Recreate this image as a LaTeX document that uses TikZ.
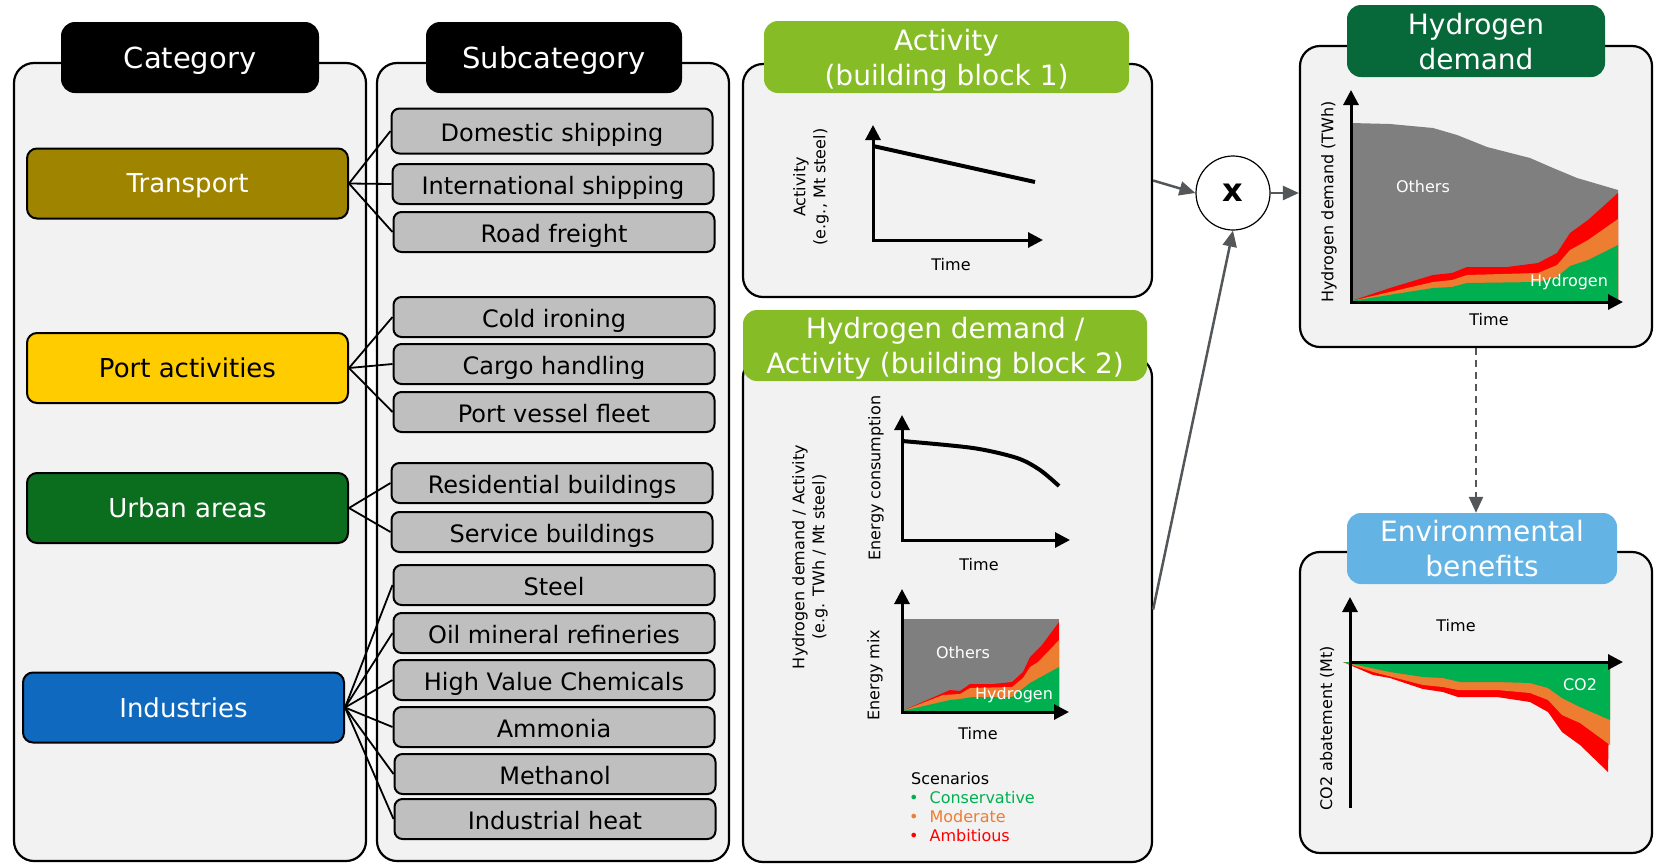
\documentclass[tikz,border=0pt]{standalone}
\usepackage{fontspec}
\setmainfont{DejaVu Sans}
\usetikzlibrary{arrows.meta}

\definecolor{panelgray}{HTML}{F2F2F2}
\definecolor{boxgray}{HTML}{BFBFBF}
\definecolor{transportcol}{HTML}{9F8400}
\definecolor{portcol}{HTML}{FFCC00}
\definecolor{urbancol}{HTML}{0B6E1E}
\definecolor{industrycol}{HTML}{0F69BE}
\definecolor{blockgreen}{HTML}{86BC25}
\definecolor{demandgreen}{HTML}{07693A}
\definecolor{envblue}{HTML}{63B4E4}
\definecolor{arrowgray}{HTML}{53575A}
\definecolor{othersgray}{HTML}{7F7F7F}
\definecolor{consgreen}{HTML}{00B050}
\definecolor{modorange}{HTML}{ED7D31}
\definecolor{ambred}{HTML}{FF0000}

\tikzset{
  panel/.style={draw, line width=2.2pt, fill=panelgray, rounded corners=20pt, inner sep=0pt},
  header/.style={rounded corners=14pt, text=white, align=center, inner sep=0pt,
    text depth=0pt, font=\fontsize{28}{35}\selectfont},
  catbox/.style={draw, line width=2pt, rounded corners=10pt, minimum width=321pt,
    minimum height=70pt, text depth=0pt, font=\fontsize{26}{30}\selectfont},
  subbox/.style={draw, fill=boxgray, line width=2pt, rounded corners=8pt, minimum width=321pt,
    minimum height=40pt, text height=20.5pt, text depth=0pt, font=\fontsize{24}{28}\selectfont},
  axis/.style={line width=3pt, -{Triangle[length=15pt,width=15pt]}},
  curve/.style={line width=4pt},
  lbl/.style={font=\fontsize{16}{20}\selectfont, align=center, inner sep=0pt},
  flow/.style={draw=arrowgray, line width=2.5pt, -{Triangle[length=16pt,width=14pt]}},
  link/.style={line width=1.8pt},
}

\begin{document}
\begin{tikzpicture}[x=1pt, y=-1pt]
  \useasboundingbox (0,0) rectangle (1662,863);

  % Category column
  \node[panel, minimum width=352pt, minimum height=798pt] (catpanel) at (190,462) {};
  \node[header, fill=black, minimum width=258pt, minimum height=71pt,
    font=\fontsize{29}{33}\selectfont] (cathead) at (190,57.5) {Category};
  \node[catbox, fill=transportcol, text=white] (transport) at (187.5,183.5) {Transport};
  \node[catbox, fill=portcol] (port) at (187.5,368) {Port activities};
  \node[catbox, fill=urbancol, text=white] (urban) at (187.5,508) {Urban areas};
  \node[catbox, fill=industrycol, text=white] (industry) at (183.5,707.5) {Industries};

  % Subcategory column
  \node[panel, minimum width=352pt, minimum height=798pt] (subpanel) at (553,462) {};
  \node[header, fill=black, minimum width=256pt, minimum height=71pt,
    font=\fontsize{29}{33}\selectfont] (subhead) at (554,57.5) {Subcategory};
  \node[subbox, minimum height=45pt] (dom) at (552,131) {Domestic shipping};
  \node[subbox] (intl) at (553,184) {International shipping};
  \node[subbox] (road) at (554,232) {Road freight};
  \node[subbox] (cold) at (554,317) {Cold ironing};
  \node[subbox] (cargo) at (554,364) {Cargo handling};
  \node[subbox] (vessel) at (554,412) {Port vessel fleet};
  \node[subbox] (resid) at (552,483) {Residential buildings};
  \node[subbox] (service) at (552,532) {Service buildings};
  \node[subbox] (steel) at (554,585) {Steel};
  \node[subbox] (oil) at (554,633) {Oil mineral refineries};
  \node[subbox] (hvc) at (554,680) {High Value Chemicals};
  \node[subbox] (ammonia) at (554,727) {Ammonia};
  \node[subbox] (methanol) at (555,774) {Methanol};
  \node[subbox] (heat) at (555,819) {Industrial heat};

  % Links
  \foreach \s in {dom,intl,road} \draw[link] (transport.east) -- (\s.west);
  \foreach \s in {cold,cargo,vessel} \draw[link] (port.east) -- (\s.west);
  \foreach \s in {resid,service} \draw[link] (urban.east) -- (\s.west);
  \foreach \s in {steel,oil,hvc,ammonia,methanol,heat} \draw[link] (industry.east) -- (\s.west);

  % Building block 1
  \node[panel, minimum width=409pt, minimum height=233pt] (actpanel) at (947.5,180.5) {};
  \node[header, fill=blockgreen, minimum width=365pt, minimum height=72pt] (acthead)
    at (946.5,57) {Activity\\(building block 1)};
  \draw[axis] (873,241.5) -- (873,125);
  \draw[axis] (873,240) -- (1043,240);
  \draw[curve] (873,146) -- (1035,182);
  \node[lbl, rotate=90] (actylab) at (811,187) {Activity\\(e.g., Mt steel)};
  \node[lbl] (acttime) at (951,265) {Time};

  % Building block 2
  \node[panel, minimum width=409pt, minimum height=505pt] (blocktwo) at (947.5,609.5) {};
  \node[header, fill=blockgreen, minimum width=404pt, minimum height=71pt] (blockhead)
    at (945,345.5) {Hydrogen demand /\\Activity (building block 2)};
  \node[lbl, rotate=90] (blockylab) at (810,557) {Hydrogen demand / Activity\\(e.g. TWh / Mt steel)};
  % energy consumption
  \draw[axis] (902,541.5) -- (902,415);
  \draw[axis] (902,540) -- (1070,540);
  \draw[curve] plot[smooth] coordinates {(902,441) (973,448) (1017,458) (1040,470) (1059,486)};
  \node[lbl, rotate=90] (ecylab) at (876,478) {Energy consumption};
  \node[lbl] (ectime) at (979,565) {Time};
  % energy mix
  \fill[othersgray] (902,619) rectangle (1059,712);
  \fill[ambred] (902,711) -- (950,690) -- (960,691) -- (970,684) -- (993,684) -- (1012,682)
    -- (1023,672) -- (1030,657) -- (1042,645) -- (1059,622) -- (1059,712) -- cycle;
  \fill[modorange] (902,711) -- (943,695) -- (960,694) -- (970,688) -- (1012,687) -- (1023,678)
    -- (1030,667) -- (1038,662) -- (1059,640) -- (1059,712) -- cycle;
  \fill[consgreen] (902,711) -- (950,700) -- (960,699) -- (973,697) -- (1012,697) -- (1030,683)
    -- (1059,667) -- (1059,712) -- cycle;
  \draw[axis] (902,713.5) -- (902,589);
  \draw[axis] (902,712) -- (1069,712);
  \node[lbl, text=white] (emothers) at (963,653) {Others};
  \node[lbl, text=white] (emhydrogen) at (1014,695) {Hydrogen};
  \node[lbl, rotate=90] (emylab) at (875,675) {Energy mix};
  \node[lbl] (emtime) at (978,734) {Time};
  % scenarios
  \node[lbl, anchor=west] (scen) at (911,779) {Scenarios};
  \node[lbl, anchor=west, text=consgreen] (scencons) at (909,798) {\textbullet\hspace{11pt}Conservative};
  \node[lbl, anchor=west, text=modorange] (scenmod) at (909,817) {\textbullet\hspace{11pt}Moderate};
  \node[lbl, anchor=west, text=ambred] (scenamb) at (909,836) {\textbullet\hspace{11pt}Ambitious};

  % Multiplication
  \node[circle, draw, fill=white, line width=1.2pt, minimum size=74pt, inner sep=0pt,
    font=\fontsize{32}{32}\selectfont\bfseries] (times) at (1233,193) {x};

  % Hydrogen demand
  \node[panel, minimum width=352pt, minimum height=301pt] (h2panel) at (1476,196.5) {};
  \node[header, fill=demandgreen, minimum width=258pt, minimum height=72pt] (h2head)
    at (1476,41) {Hydrogen\\demand};
  \fill[othersgray] (1351,302) -- (1351,123) -- (1390,124) -- (1433,128) -- (1457,135) -- (1487,147)
    -- (1530,158) -- (1553,168) -- (1577,178) -- (1618,190) -- (1618,302) -- cycle;
  \fill[ambred] (1351,301) -- (1390,288) -- (1433,275) -- (1452,273) -- (1467,267) -- (1507,267)
    -- (1538,263) -- (1557,253) -- (1570,233) -- (1588,220) -- (1618,193) -- (1618,302) -- cycle;
  \fill[modorange] (1351,301) -- (1433,282) -- (1452,280) -- (1467,275) -- (1538,273) -- (1557,265)
    -- (1570,250) -- (1588,240) -- (1618,219) -- (1618,302) -- cycle;
  \fill[consgreen] (1351,301) -- (1433,288) -- (1452,287) -- (1467,283) -- (1538,282) -- (1557,277)
    -- (1570,266) -- (1588,260) -- (1618,245) -- (1618,302) -- cycle;
  \draw[axis] (1351,303.5) -- (1351,90);
  \draw[axis] (1351,302) -- (1623,302);
  \node[lbl, text=white] (h2others) at (1423,187) {Others};
  \node[lbl, text=white] (h2hydrogen) at (1569,282) {Hydrogen};
  \node[lbl] (h2time) at (1489,320) {Time};
  \node[lbl, rotate=90] (h2ylab) at (1329,202) {Hydrogen demand (TWh)};

  % Environmental benefits
  \node[panel, minimum width=352pt, minimum height=301pt] (envpanel) at (1476,702.5) {};
  \node[header, fill=envblue, minimum width=270pt, minimum height=71pt] (envhead)
    at (1482,548.5) {Environmental\\benefits};
  \fill[ambred] (1343,662) -- (1373,675) -- (1390,678) -- (1423,689) -- (1443,692) -- (1458,697)
    -- (1497,697) -- (1530,702) -- (1548,712) -- (1562,732) -- (1580,745) -- (1608,772)
    -- (1610,662) -- cycle;
  \fill[modorange] (1343,662) -- (1373,672) -- (1423,685) -- (1443,687) -- (1458,690) -- (1497,690)
    -- (1530,693) -- (1548,700) -- (1562,715) -- (1580,723) -- (1610,745) -- (1610,662) -- cycle;
  \fill[consgreen] (1343,662) -- (1390,672) -- (1423,677) -- (1443,678) -- (1460,682) -- (1497,682)
    -- (1530,683) -- (1548,688) -- (1562,698) -- (1580,707) -- (1610,720) -- (1610,662) -- cycle;
  \draw[axis] (1350,808) -- (1350,597);
  \draw[axis] (1350,662) -- (1623,662);
  \node[lbl, text=white] (envco2) at (1580,685) {CO2};
  \node[lbl] (envtime) at (1456,626) {Time};
  \node[lbl, rotate=90] (envylab) at (1327,728) {CO2 abatement (Mt)};

  % Flow arrows
  \draw[flow] (actpanel.east) -- (times.west);
  \draw[flow] (blocktwo.east) -- (times.south);
  \draw[flow] (times.east) -- (h2panel.west |- times.east);
  \draw[flow, dashed, dash pattern=on 7pt off 5pt] (h2panel.south) -- (h2panel.south |- envhead.north);
\end{tikzpicture}
\end{document}
